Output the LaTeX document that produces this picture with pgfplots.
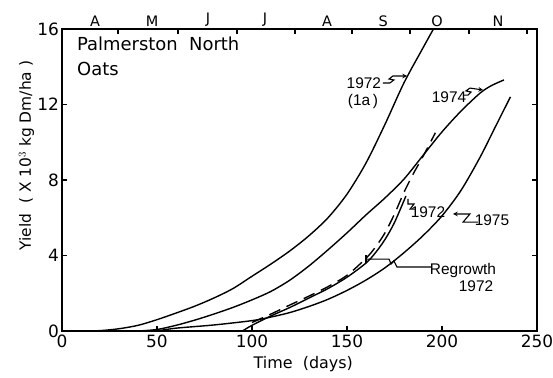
\documentclass[border=0pt]{standalone}
\usepackage{fontspec}
\setmainfont{DejaVu Sans}
\newfontfamily\lab{Liberation Sans}
\usepackage{pgfplots}
\pgfplotsset{compat=1.18}
\begin{document}
\begin{tikzpicture}
\pgfplotsset{every axis/.append style={scale only axis, width=475bp, height=302bp,
  xmin=0, xmax=250, ymin=0, ymax=16,
  axis line style={line width=1.3bp},
  tick style={line width=1.2bp, black},
  /pgf/number format/assume math mode=true}}
\begin{axis}[
  xtick={0,50,...,250}, ytick={0,4,8,12,16},
  xtick pos=left, ytick pos=both,
  tick align=inside, major tick length=5bp,
  tick label style={font=\fontsize{17}{17}\selectfont},
  xticklabel style={yshift=0bp},
  yticklabel style={xshift=0.5bp},
  xlabel={Time\ \ (days)},
  ylabel={Yield\ \ ( X 10$^3$ kg Dm/ha )},
  xlabel style={font=\fontsize{16}{16}\selectfont, at={(axis cs:127,0)}, anchor=base, yshift=-37bp},
  ylabel style={font=\fontsize{15.5}{15.5}\selectfont, at={(axis cs:0,9.3)}, anchor=base, yshift=31bp},
]
\pgfplotsset{cv/.style={black, line width=1.4bp, no marks, smooth, tension=0.5}}
% 1972 (1a)
\addplot[cv] coordinates {(10,0)(20,0.02)(30,0.12)(40,0.3)(50,0.6)(60,0.95)(70,1.32)(80,1.75)(90,2.25)(100,2.9)(110,3.55)(120,4.25)(130,5.05)(140,6.0)(150,7.25)(160,8.9)(170,10.95)(180,13.15)(190,15.0)(195.5,16)};
% 1974
\addplot[cv] coordinates {(40,0)(50,0.08)(60,0.3)(70,0.58)(80,0.9)(90,1.25)(100,1.65)(110,2.1)(120,2.7)(130,3.45)(140,4.3)(150,5.2)(160,6.15)(170,7.05)(180,8.05)(190,9.3)(200,10.55)(210,11.65)(220,12.6)(226,13.0)(232.6,13.3)};
% 1975
\addplot[cv] coordinates {(50,0)(60,0.15)(80,0.32)(100,0.55)(110,0.74)(120,0.98)(130,1.3)(140,1.68)(150,2.15)(160,2.7)(170,3.35)(180,4.15)(190,5.05)(200,6.1)(210,7.45)(220,9.2)(228,10.8)(236,12.4)};
% 1972 solid
\addplot[cv] coordinates {(95,0)(100,0.3)(110,0.8)(120,1.25)(130,1.75)(140,2.25)(150,2.85)(160,3.6)(165,4.15)(170,4.85)(175,5.75)(181,7.15)};
% Regrowth 1972 (dashed)
\addplot[cv, dash pattern=on 12bp off 7bp] coordinates {(100,0.45)(110,0.9)(120,1.38)(130,1.85)(140,2.35)(150,2.95)(160,3.85)(165,4.45)(170,5.2)(175,6.2)(180,7.35)(185,8.35)(190,9.25)(196.5,10.5)};

% title
\node[anchor=north west, inner sep=0, align=left, font=\fontsize{18}{25}\selectfont] at (axis cs:7.9,15.6) {Palmerston\ \ North\\Oats};

% labels
\begin{scope}[font=\lab\fontsize{15.5}{15.5}\selectfont]
\node[inner sep=0] at (axis cs:158.9,13.14) {1972};
\node[inner sep=0] at (axis cs:158.4,12.15) {(1a\,)};
\node[inner sep=0] at (axis cs:203.7,12.40) {1974};
\node[inner sep=0] at (axis cs:192.6,6.30) {1972};
\node[inner sep=0] at (axis cs:226.3,5.88) {1975};
\node[inner sep=0] at (axis cs:211.05,3.18) {Regrowth};
\node[inner sep=0] at (axis cs:217.9,2.38) {1972};
\end{scope}
\begin{scope}[line width=1.1bp, -stealth]
\draw (axis cs:168.9,13.14) -- (axis cs:172.6,13.14) -- (axis cs:174.7,13.30) -- (axis cs:172.1,13.35) -- (axis cs:174.2,13.51) -- (axis cs:181.6,13.51);
\draw (axis cs:211.05,12.50) -- (axis cs:213.7,12.50) -- (axis cs:215.3,12.66) -- (axis cs:212.6,12.72) -- (axis cs:214.7,12.87) -- (axis cs:221.6,12.77);
\draw (axis cs:218.9,5.77) -- (axis cs:211.1,5.77) -- (axis cs:214.7,6.20) -- (axis cs:211.1,6.20) -- (axis cs:205.8,6.20);
\end{scope}
\begin{scope}[line width=1.1bp]
\draw (axis cs:185.8,6.46) -- (axis cs:183.2,6.46) -- (axis cs:185.3,6.73) -- (axis cs:182.1,6.73) -- (axis cs:182.1,7.0);
\draw (axis cs:194.2,3.39) -- (axis cs:176.3,3.39) -- (axis cs:174.7,3.71) -- (axis cs:173.2,3.55) -- (axis cs:172.1,3.81) -- (axis cs:160.0,3.81);
\draw (axis cs:160.0,4.02) -- (axis cs:160.0,3.60);
\end{scope}
\end{axis}
\begin{axis}[
  axis x line*=top, axis y line=none, ytick=\empty,
  xtick={17.4,47.4,76.8,106.8,139.5,169,197.4,229.5},
  xticklabels={A,M,J,J,A,S,O,N},
  major tick length=0pt,
  minor xtick={29.5,61.1,92.1,122.6,152.6,183.2,214.2,244.7},
  minor tick length=5bp, tick align=inside,
  xticklabel style={font=\fontsize{14.5}{14.5}\selectfont, yshift=-1bp},
]
\end{axis}
\pgfresetboundingbox
\path[use as bounding box] ([xshift=-62bp,yshift=-47bp]current axis.south west) rectangle ([xshift=16bp,yshift=29bp]current axis.north east);
\end{tikzpicture}
\end{document}
